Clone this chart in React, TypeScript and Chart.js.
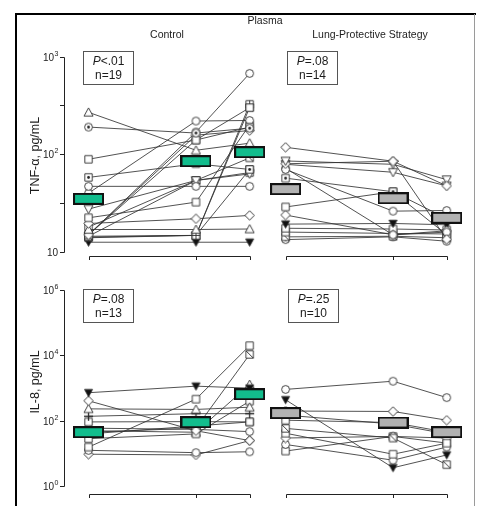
import React, { useEffect, useRef } from "react";
import { Chart, registerables } from "chart.js";

Chart.register(...registerables);

// ---------------- data ----------------
const timePoints = [0, 2, 3];

// TNF-α (pg/mL), Control group, one row per patient
const tnfControl = [
  [269, 110, 130],
  [190, 165, 185],
  [89, 140, 190],
  [58, 80, 70],
  [47, 47, 47],
  [40, 219, 222],
  [27.5, 54, 63],
  [22.4, 32.4, 200],
  [19.6, 21.9, 23.7],
  [17, 17, 17.2],
  [15, 157, 175],
  [15, 140, 300],
  [14.5, 54, 92],
  [14.5, 14.8, 325],
  [14.2, 14.8, 302],
  [12.6, 12.6, 12.6],
  [15, 169, 673],
  [18, 54, 65],
  [14, 14.8, 70],
];
const tnfControlMarkers = ["tri", "circDot", "sq", "sqDot", "circ", "circ", "triDown", "sq", "diam", "tri", "diam", "sq", "sqSlash", "sqPlus", "sqPlus", "triDownFill", "circ", "sq", "sqSlash"];
const tnfControlMean = [35, 85, 105];

// TNF-α (pg/mL), Lung-Protective Strategy group
const tnfLung = [
  [118, 85, 47.5],
  [85.5, 79, 55],
  [80, 85, 13.5],
  [70, 26.2, 26.6],
  [72, 15, 16],
  [57, 41.4, 15],
  [28.9, 41.4, 22],
  [23.9, 15, 16.5],
  [19.3, 19.6, 19],
  [17.5, 17.2, 16.8],
  [16, 15.5, 15.3],
  [14.3, 14.5, 14],
  [13.4, 14.3, 12.9],
  [79, 65.5, 47.5],
];
const tnfLungMarkers = ["diam", "triDown", "diam", "circ", "circ", "sqDot", "sq", "diam", "triDownFill", "sq", "sq", "sqSlash", "circDot", "triDown"];
const tnfLungMean = [44, 35.5, 22.4];

// IL-8 (pg/mL), Control group
const il8Control = [
  [726, 1150, 1000],
  [411, 50, 25],
  [233, 224, 262],
  [138, 166, 166],
  [93, 95, 93],
  [15.8, 462, 19900],
  [45, 60, 10700],
  [60, 55, 47],
  [28.6, 40, 400],
  [50, 45, 1290],
  [12.6, 10.7, 11.4],
  [9.6, 9.1, 25],
  [40, 70, 93],
];
const il8ControlMarkers = ["triDownFill", "diam", "tri", "plus", "sq", "sq", "sqSlash", "circ", "sq", "tri", "circ", "diam", "sq"];
const il8ControlMean = [45, 91, 650];

// IL-8 (pg/mL), Lung-Protective Strategy group
const il8Lung = [
  [916, 1630, 515],
  [441, 3.7, 9.1],
  [200, 194, 105],
  [105, 89, 45],
  [59, 30, 4.6],
  [42, 9.6, 20.9],
  [30, 33.5, 30],
  [19, 6.3, 15.9],
  [12, 33.5, 21],
  [150, 80, 40],
];
const il8LungMarkers = ["circ", "triDownFill", "diam", "sq", "sqSlash", "sq", "diam", "circ", "sq", "sq"];
const il8LungMean = [173, 89, 45];

const tnfTicks = [10, 31.62, 100, 316.2, 1000];
const tnfTickLabels = ["10", "", "10^2", "", "10^3"];
const il8Ticks = [1, 100, 10000, 1000000];
const il8TickLabels = ["10^0", "10^2", "10^4", "10^6"];

const figureTitle = "Plasma";
const groupTitles = ["Control", "Lung-Protective Strategy"];
const yTitles = ["TNF-α, pg/mL", "IL-8, pg/mL"];
const pTexts = ["<.01", "=.08", "=.08", "=.25"];
const nTexts = ["19", "14", "13", "10"];

// ---------------- layout ----------------
const W = 478;
const H = 506;
const X0 = [84, 287];
const X3 = [250, 453];
const TOP = { hiPx: 51, hiDec: 3, loPx: 252, loDec: 1 };
const BOT = { hiPx: 291, hiDec: 6, loPx: 493, loDec: 0 };
const Y_AXIS_X = 64;
const X_AXIS_Y = [256, 494];
const FONT = '"Liberation Sans", Arial, Helvetica, sans-serif';
const TEXT = "#1c1c1c";
const GREEN = "#12bd8d";
const GREY = "#b2b2b2";

function linBounds(p0: number, p3: number) {
  const span = timePoints[timePoints.length - 1] - timePoints[0];
  const k = (p3 - p0) / span;
  const min = timePoints[0] - p0 / k;
  return { min, max: min + W / k };
}
function logBounds(b: { hiPx: number; hiDec: number; loPx: number; loDec: number }) {
  const per = (b.loPx - b.hiPx) / (b.hiDec - b.loDec);
  const top = b.hiDec + b.hiPx / per;
  const bottom = top - H / per;
  return { min: Math.pow(10, bottom), max: Math.pow(10, top) };
}

function makeMarker(kind: string) {
  const c = document.createElement("canvas");
  c.width = 11;
  c.height = 11;
  const g = c.getContext("2d") as CanvasRenderingContext2D;
  g.lineWidth = 0.9;
  g.strokeStyle = "#2a2a2a";
  g.fillStyle = "#fff";
  const m = 5.5;
  const sq = () => { g.beginPath(); g.rect(1.8, 1.8, 7.4, 7.4); g.fill(); g.stroke(); };
  const circ = () => { g.beginPath(); g.arc(m, m, 3.9, 0, Math.PI * 2); g.fill(); g.stroke(); };
  const dot = () => { g.beginPath(); g.arc(m, m, 1.4, 0, Math.PI * 2); g.fillStyle = "#222"; g.fill(); };
  switch (kind) {
    case "circ": circ(); break;
    case "circDot": circ(); dot(); break;
    case "sq": sq(); break;
    case "sqDot": sq(); dot(); break;
    case "sqSlash": sq(); g.beginPath(); g.moveTo(1.8, 1.8); g.lineTo(9.2, 9.2); g.stroke(); break;
    case "sqPlus": sq(); g.beginPath(); g.moveTo(m, 1.8); g.lineTo(m, 9.2); g.moveTo(1.8, m); g.lineTo(9.2, m); g.stroke(); break;
    case "plus": g.lineWidth = 1.3; g.beginPath(); g.moveTo(m, 1); g.lineTo(m, 10); g.moveTo(1, m); g.lineTo(10, m); g.stroke(); break;
    case "diam": g.beginPath(); g.moveTo(m, 0.8); g.lineTo(10.2, m); g.lineTo(m, 10.2); g.lineTo(0.8, m); g.closePath(); g.fill(); g.stroke(); break;
    case "tri": g.beginPath(); g.moveTo(m, 1); g.lineTo(10, 9.2); g.lineTo(1, 9.2); g.closePath(); g.fill(); g.stroke(); break;
    case "triDown": g.beginPath(); g.moveTo(1, 1.8); g.lineTo(10, 1.8); g.lineTo(m, 10); g.closePath(); g.fill(); g.stroke(); break;
    case "triDownFill": g.fillStyle = "#111"; g.beginPath(); g.moveTo(1.5, 2.2); g.lineTo(9.5, 2.2); g.lineTo(m, 9.5); g.closePath(); g.fill(); g.stroke(); break;
    default: circ();
  }
  return c;
}

function makeMeanBox(fill: string) {
  const c = document.createElement("canvas");
  c.width = 31;
  c.height = 12;
  const g = c.getContext("2d") as CanvasRenderingContext2D;
  g.fillStyle = fill;
  g.fillRect(1, 1, 29, 10);
  g.lineWidth = 2;
  g.strokeStyle = "#111";
  g.strokeRect(1, 1, 29, 10);
  return c;
}

function panelDatasets(rows: number[][], markers: string[], mean: number[], xId: string, yId: string, fill: string) {
  const ds: any[] = rows.map((r, i) => ({
    data: r.map((v, j) => ({ x: timePoints[j], y: v })),
    xAxisID: xId,
    yAxisID: yId,
    showLine: true,
    borderColor: "#333",
    borderWidth: 0.85,
    pointStyle: makeMarker(markers[i]),
    pointRadius: 5,
    pointHoverRadius: 5,
    order: 1,
  }));
  ds.push({
    data: mean.map((v, j) => ({ x: timePoints[j], y: v })),
    xAxisID: xId,
    yAxisID: yId,
    showLine: false,
    pointStyle: makeMeanBox(fill),
    pointRadius: 6,
    pointHoverRadius: 6,
    order: 0,
  });
  return ds;
}

function drawPow(ctx: CanvasRenderingContext2D, label: string, xRight: number, y: number) {
  const [base, exp] = label.split("^");
  ctx.font = `10px ${FONT}`;
  const bw = ctx.measureText(base).width;
  let ew = 0;
  if (exp) {
    ctx.font = `7px ${FONT}`;
    ew = ctx.measureText(exp).width;
  }
  const x0 = xRight - bw - ew;
  ctx.textAlign = "left";
  ctx.textBaseline = "middle";
  ctx.font = `10px ${FONT}`;
  ctx.fillText(base, x0, y + 0.5);
  if (exp) {
    ctx.font = `7px ${FONT}`;
    ctx.fillText(exp, x0 + bw + 0.3, y - 3.5);
  }
}

function drawYAxis(ctx: CanvasRenderingContext2D, scale: any, ticks: number[], labels: string[]) {
  const ys = ticks.map((t) => Math.round(scale.getPixelForValue(t)) + 0.5);
  ctx.strokeStyle = "#222";
  ctx.lineWidth = 1;
  ctx.beginPath();
  ctx.moveTo(Y_AXIS_X + 0.5, ys[0]);
  ctx.lineTo(Y_AXIS_X + 0.5, ys[ys.length - 1]);
  ys.forEach((y) => {
    ctx.moveTo(Y_AXIS_X - 4, y);
    ctx.lineTo(Y_AXIS_X + 0.5, y);
  });
  ctx.stroke();
  ctx.fillStyle = TEXT;
  ys.forEach((y, i) => {
    if (labels[i]) drawPow(ctx, labels[i], Y_AXIS_X - 6, y);
  });
}

function drawXAxis(ctx: CanvasRenderingContext2D, scale: any, y: number) {
  const xs = timePoints.map((t) => Math.round(scale.getPixelForValue(t)) + 0.5);
  ctx.strokeStyle = "#222";
  ctx.lineWidth = 1;
  ctx.beginPath();
  ctx.moveTo(xs[0], y + 0.5);
  ctx.lineTo(xs[xs.length - 1], y + 0.5);
  xs.forEach((x) => {
    ctx.moveTo(x, y + 0.5);
    ctx.lineTo(x, y + 4);
  });
  ctx.stroke();
}

function drawPBox(ctx: CanvasRenderingContext2D, x: number, y: number, p: string, n: string) {
  const w = 50;
  const h = 33;
  ctx.strokeStyle = "#555";
  ctx.lineWidth = 1;
  ctx.strokeRect(x + 0.5, y + 0.5, w, h);
  const cx = x + w / 2 + 0.5;
  ctx.fillStyle = TEXT;
  ctx.textBaseline = "middle";
  ctx.textAlign = "left";
  ctx.font = `italic 12px ${FONT}`;
  const w1 = ctx.measureText("P").width;
  ctx.font = `12px ${FONT}`;
  const w2 = ctx.measureText(p).width;
  const sx = cx - (w1 + w2) / 2;
  ctx.font = `italic 12px ${FONT}`;
  ctx.fillText("P", sx, y + 11);
  ctx.font = `12px ${FONT}`;
  ctx.fillText(p, sx + w1, y + 11);
  ctx.textAlign = "center";
  ctx.fillText("n=" + n, cx, y + 25);
}

const decorPlugin = {
  id: "decor",
  beforeDatasetsDraw(chart: any) {
    const ctx = chart.ctx as CanvasRenderingContext2D;
    const s = chart.scales;
    ctx.save();
    // frame
    ctx.strokeStyle = "#000";
    ctx.lineWidth = 2;
    ctx.beginPath();
    ctx.moveTo(16, H);
    ctx.lineTo(16, 14);
    ctx.lineTo(476, 14);
    ctx.stroke();
    ctx.strokeStyle = "#9a9a9a";
    ctx.lineWidth = 1;
    ctx.beginPath();
    ctx.moveTo(474.5, 14);
    ctx.lineTo(474.5, H);
    ctx.stroke();

    drawYAxis(ctx, s.yT, tnfTicks, tnfTickLabels);
    drawYAxis(ctx, s.yB, il8Ticks, il8TickLabels);
    drawXAxis(ctx, s.xL, X_AXIS_Y[0]);
    drawXAxis(ctx, s.xR, X_AXIS_Y[0]);
    drawXAxis(ctx, s.xL, X_AXIS_Y[1]);
    drawXAxis(ctx, s.xR, X_AXIS_Y[1]);

    // titles
    ctx.fillStyle = TEXT;
    ctx.textAlign = "center";
    ctx.textBaseline = "middle";
    ctx.font = `10.5px ${FONT}`;
    ctx.fillText(figureTitle, 265, 21);
    ctx.fillText(groupTitles[0], (X0[0] + X3[0]) / 2, 35);
    ctx.fillText(groupTitles[1], (X0[1] + X3[1]) / 2, 35);

    ctx.font = `12.5px ${FONT}`;
    [
      [yTitles[0], (TOP.hiPx + TOP.loPx) / 2 + 4],
      [yTitles[1], (BOT.hiPx + BOT.loPx) / 2 - 10],
    ].forEach(([t, cy]) => {
      ctx.save();
      ctx.translate(36, cy as number);
      ctx.rotate(-Math.PI / 2);
      ctx.fillText(t as string, 0, 0);
      ctx.restore();
    });

    drawPBox(ctx, 83, 51, pTexts[0], nTexts[0]);
    drawPBox(ctx, 287, 51, pTexts[1], nTexts[1]);
    drawPBox(ctx, 83, 289, pTexts[2], nTexts[2]);
    drawPBox(ctx, 288, 289, pTexts[3], nTexts[3]);
    ctx.restore();
  },
};

export default function App() {
  const ref = useRef<HTMLCanvasElement | null>(null);
  useEffect(() => {
    const canvas = ref.current;
    if (!canvas) return;
    const xl = linBounds(X0[0], X3[0]);
    const xr = linBounds(X0[1], X3[1]);
    const yt = logBounds(TOP);
    const yb = logBounds(BOT);
    const datasets = [
      ...panelDatasets(tnfControl, tnfControlMarkers, tnfControlMean, "xL", "yT", GREEN),
      ...panelDatasets(tnfLung, tnfLungMarkers, tnfLungMean, "xR", "yT", GREY),
      ...panelDatasets(il8Control, il8ControlMarkers, il8ControlMean, "xL", "yB", GREEN),
      ...panelDatasets(il8Lung, il8LungMarkers, il8LungMean, "xR", "yB", GREY),
    ];
    const chart = new Chart(canvas, {
      type: "scatter",
      data: { datasets },
      options: {
        responsive: false,
        animation: false,
        events: [],
        layout: { padding: 0 },
        plugins: { legend: { display: false }, tooltip: { enabled: false }, title: { display: false } },
        scales: {
          x: { display: false },
          y: { display: false },
          xL: { type: "linear", axis: "x", position: "bottom", display: false, bounds: "data", min: xl.min, max: xl.max },
          xR: { type: "linear", axis: "x", position: "bottom", display: false, bounds: "data", min: xr.min, max: xr.max },
          yT: { type: "logarithmic", axis: "y", position: "left", display: false, bounds: "data", min: yt.min, max: yt.max },
          yB: { type: "logarithmic", axis: "y", position: "left", display: false, bounds: "data", min: yb.min, max: yb.max },
        },
      } as any,
      plugins: [decorPlugin],
    });
    return () => chart.destroy();
  }, []);
  return (
    <div style={{ position: "fixed", left: 0, top: 0, width: W, height: H, background: "#fff" }}>
      <canvas ref={ref} width={W} height={H} style={{ display: "block" }} />
    </div>
  );
}
